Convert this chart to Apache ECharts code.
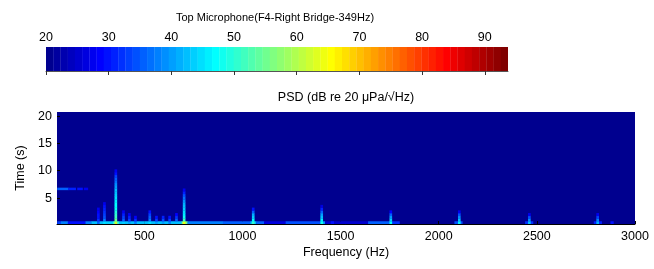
<!DOCTYPE html>
<html>
<head>
<meta charset="utf-8">
<style>
  html, body { margin: 0; padding: 0; background: #fff; }
  #chart { width: 654px; height: 269px; }
</style>
<script src="https://cdn.jsdelivr.net/npm/echarts@6/dist/echarts.min.js"></script>
</head>
<body>
<div id="chart"></div>
<script>
// colour scale (dB) and tick labels
const cMin = 20;
const cMax = 93.7;
const cbarTicks = [20, 30, 40, 50, 60, 70, 80, 90];
const freqTicks = [500, 1000, 1500, 2000, 2500, 3000];
const timeTicks = [5, 10, 15, 20];
const freqRange = [55, 3000];
const timeRange = [0.25, 20.75];
const backgroundLevel = 20.5;

// streak levels (dB), one value per 0.5 s time bin starting at t = 0.5 s
const streak354 = [62, 55, 52, 50, 49, 48, 47, 47, 46, 45, 44, 43, 42, 40, 39, 37, 35, 33, 30, 27];
const streak702 = [64, 52, 48, 46, 45, 44, 42, 41, 39, 37, 34, 31, 27];
const streak1054 = [50, 47, 44, 41, 36, 30];
const streak1403 = [48, 46, 43, 40, 36, 31, 26];
const streak1755 = [47, 44, 40, 35, 29];
const streak2104 = [46, 43, 39, 34, 28];
const streak2461 = [42, 39, 34, 27];
const streak2809 = [41, 38, 33, 27];
const streak265 = [35, 32, 30, 30, 29, 27];
const streak296 = [45, 38, 34, 33, 32, 31, 30, 28];
const streak393 = [44, 35, 33, 31, 28];
const streak423 = [40, 33, 31, 28];
const streak454 = [38, 32, 29];
const streak527 = [45, 38, 35, 33, 30];
const streak561 = [40, 33, 30];
const streak595 = [40, 34, 31];
const streak628 = [38, 33, 30];
const streak663 = [42, 36, 32, 29];

const streaks = [
  [265, streak265], [296, streak296], [393, streak393], [423, streak423], [454, streak454],
  [527, streak527], [561, streak561], [595, streak595], [628, streak628], [663, streak663],
  [354, streak354], [702, streak702], [1054, streak1054], [1403, streak1403],
  [1755, streak1755], [2104, streak2104], [2461, streak2461], [2809, streak2809]
];

// band along the first time bin: [from Hz, to Hz, dB]
const bottomBand = [
  [56, 75, 33], [75, 110, 38], [110, 200, 30], [200, 230, 38], [230, 300, 42],
  [300, 340, 44], [340, 370, 50], [370, 500, 43], [500, 690, 42], [690, 720, 55],
  [720, 900, 38], [900, 1040, 35], [1040, 1070, 42], [1070, 1110, 35], [1110, 1220, 26],
  [1220, 1400, 34], [1400, 1420, 40], [1420, 1640, 25], [1640, 1750, 35], [1760, 1800, 32],
  [2080, 2120, 34], [2440, 2480, 32], [2790, 2830, 31], [2875, 2890, 30], [1450, 1465, 30]
];

// faint low-frequency line near t = 6.7 s: [from Hz, to Hz, dB]
const humLine = [[56, 112, 36], [112, 150, 31], [158, 185, 30], [192, 212, 28]];

function jet(v) {
  let k = Math.floor((v - cMin) / (cMax - cMin) * 64) + 1;
  k = Math.max(1, Math.min(64, k));
  const x = k / 64;
  const c = (d) => Math.round(255 * Math.max(0, Math.min(1, 1.5 - Math.abs(4 * x - d))));
  return 'rgb(' + c(3) + ',' + c(2) + ',' + c(1) + ')';
}

// cells: [f0, f1, t0, t1, dB]
const cells = [];
bottomBand.forEach(function (s) { cells.push([s[0], s[1], 0.3, 0.75, s[2]]); });
humLine.forEach(function (s) { cells.push([s[0], s[1], 6.5, 6.9, s[2]]); });
streaks.forEach(function (s) {
  s[1].forEach(function (db, i) {
    const tc = 0.5 * (i + 1);
    cells.push([s[0] - 6, s[0] + 6, tc - 0.25, tc + 0.25, db]);
  });
});

// colour bar steps
const cbarCells = [];
for (let k = 0; k < 64; k++) {
  const a = cMin + k * (cMax - cMin) / 64;
  const b = cMin + (k + 1) * (cMax - cMin) / 64;
  cbarCells.push([a, b, 0, 1, (a + b) / 2]);
}

function renderCell(params, api) {
  const p0 = api.coord([api.value(0), api.value(3)]);
  const p1 = api.coord([api.value(1), api.value(2)]);
  const cs = params.coordSys;
  const shape = echarts.graphic.clipRectByRect(
    { x: p0[0], y: p0[1], width: p1[0] - p0[0] + 0.3, height: p1[1] - p0[1] + 0.3 },
    { x: cs.x, y: cs.y, width: cs.width, height: cs.height }
  );
  return shape && { type: 'rect', shape: shape, style: { fill: jet(api.value(4)) } };
}

const font = 'Liberation Sans, Arial, sans-serif';
const plain = function (v) { return String(v); };
const myChart = echarts.init(document.getElementById('chart'), null, { renderer: 'canvas' });

const option = {
  animation: false,
  graphic: [
    { type: 'text', x: 275, y: 18, style: { text: 'Top Microphone(F4-Right Bridge-349Hz)', fontSize: 11, fontFamily: font, fill: '#000', textAlign: 'center', textVerticalAlign: 'middle' } },
    { type: 'text', x: 346, y: 98, style: { text: 'PSD (dB re 20 μPa/√Hz)', fontSize: 12.5, fontFamily: font, fill: '#000', textAlign: 'center', textVerticalAlign: 'middle' } }
  ],
  grid: [
    { left: 46, top: 47, width: 462, height: 24 },
    { left: 57, top: 112, width: 578, height: 112, show: true, borderWidth: 0, backgroundColor: jet(backgroundLevel) }
  ],
  xAxis: [
    {
      gridIndex: 0, type: 'value', position: 'top', min: cMin, max: cMax,
      axisLine: { show: false },
      axisTick: { inside: true, length: 4, lineStyle: { color: '#333' }, customValues: cbarTicks },
      axisLabel: { customValues: cbarTicks, formatter: plain, fontSize: 12.5, fontFamily: font, color: '#000', margin: 3 },
      splitLine: { show: false }
    },
    {
      gridIndex: 0, type: 'value', position: 'bottom', min: cMin, max: cMax,
      axisLine: { show: true, lineStyle: { color: '#555', width: 1 } },
      axisTick: { inside: true, length: 4, lineStyle: { color: '#333' }, customValues: cbarTicks },
      axisLabel: { show: false },
      splitLine: { show: false }
    },
    {
      gridIndex: 1, type: 'value', min: freqRange[0], max: freqRange[1],
      name: 'Frequency (Hz)', nameLocation: 'middle', nameGap: 22,
      nameTextStyle: { fontSize: 12.5, fontFamily: font, color: '#000' },
      axisLine: { show: true, lineStyle: { color: '#000', width: 1 } },
      axisTick: { inside: true, length: 3, lineStyle: { color: '#000' }, customValues: freqTicks },
      axisLabel: { customValues: freqTicks, formatter: plain, fontSize: 12.5, fontFamily: font, color: '#000', margin: 6 },
      splitLine: { show: false }
    }
  ],
  yAxis: [
    { gridIndex: 0, type: 'value', min: 0, max: 1, show: false },
    {
      gridIndex: 1, type: 'value', min: timeRange[0], max: timeRange[1],
      name: 'Time (s)', nameLocation: 'middle', nameGap: 23, nameRotate: 90,
      nameTextStyle: { fontSize: 12.5, fontFamily: font, color: '#000' },
      axisLine: { show: false },
      axisTick: { inside: true, length: 3, lineStyle: { color: '#000' }, customValues: timeTicks },
      axisLabel: { customValues: timeTicks, formatter: plain, fontSize: 12.5, fontFamily: font, color: '#000', margin: 5 },
      splitLine: { show: false }
    }
  ],
  series: [
    { type: 'custom', xAxisIndex: 0, yAxisIndex: 0, renderItem: renderCell, data: cbarCells, silent: true },
    { type: 'custom', xAxisIndex: 2, yAxisIndex: 1, renderItem: renderCell, data: cells, silent: true }
  ]
};

myChart.setOption(option);
window.addEventListener('resize', function () { myChart.resize(); });
</script>
</body>
</html>
